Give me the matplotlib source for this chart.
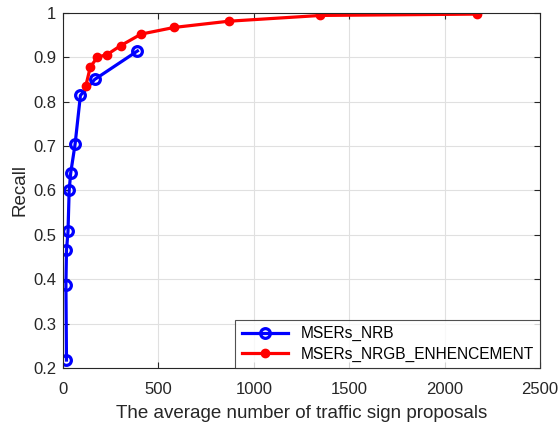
import matplotlib.pyplot as plt

plt.rcParams['font.family'] = ['Liberation Sans', 'DejaVu Sans']

# MSERs_NRB
nrb_x = [18, 15, 18, 26, 32, 40, 63, 91, 166, 390]
nrb_y = [0.218, 0.388, 0.465, 0.508, 0.600, 0.639, 0.704, 0.814, 0.850, 0.914]

# MSERs_NRGB_ENHENCEMENT
enh_x = [119, 143, 180, 231, 302, 409, 582, 868, 1349, 2167]
enh_y = [0.835, 0.878, 0.900, 0.906, 0.926, 0.952, 0.967, 0.981, 0.994, 0.997]

xticks = [0, 500, 1000, 1500, 2000, 2500]
yticks = [0.2, 0.3, 0.4, 0.5, 0.6, 0.7, 0.8, 0.9, 1]

fig = plt.figure(figsize=(5.58, 4.26), dpi=100)
ax = fig.add_axes([0.113, 0.136, 0.855, 0.834])

ax.plot(nrb_x, nrb_y, '-o', color='#0000ff', lw=2.3, ms=7, mfc='none',
        mew=2.3, label='MSERs_NRB')
ax.plot(enh_x, enh_y, '-o', color='#ff0000', lw=2.3, ms=6,
        label='MSERs_NRGB_ENHENCEMENT')

ax.set_xlim(0, 2500)
ax.set_ylim(0.2, 1)
ax.set_xticks(xticks)
ax.set_yticks(yticks)
ax.set_yticklabels(['0.2', '0.3', '0.4', '0.5', '0.6', '0.7', '0.8', '0.9', '1'])
ax.grid(True, color='#e0e0e0', lw=0.8)
ax.set_axisbelow(True)
ax.tick_params(direction='in', length=4, labelsize=12, colors='#262626',
               top=True, right=True)
ax.tick_params(axis='x', pad=10)
ax.tick_params(axis='y', pad=5)
for s in ax.spines.values():
    s.set_color('#262626')
    s.set_linewidth(0.8)

ax.set_xlabel('The average number of traffic sign proposals', fontsize=13.5,
              color='#262626', labelpad=6)
ax.set_ylabel('Recall', fontsize=13.5, color='#262626', labelpad=3)

leg = ax.legend(loc='lower right', fontsize=11.2, frameon=True, fancybox=False,
                edgecolor='#262626', borderaxespad=0, handlelength=3,
                borderpad=0.4, labelspacing=0.35)
leg.get_frame().set_linewidth(0.8)

fig.savefig('out.png', dpi=100)
